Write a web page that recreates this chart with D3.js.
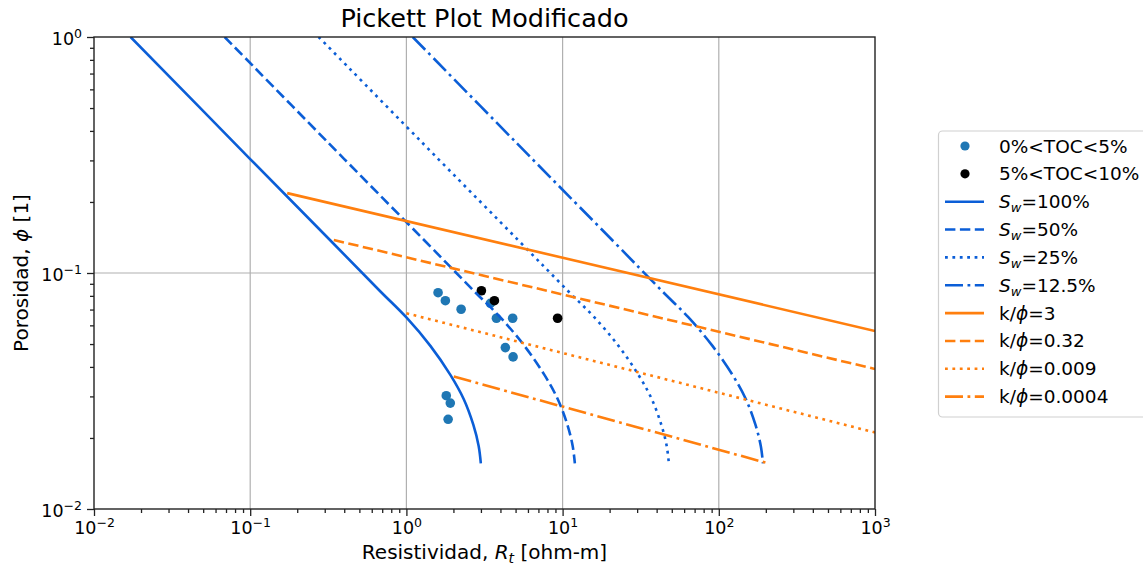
<!DOCTYPE html>
<meta charset="utf-8">
<style>
    body { margin: 0; background: #fff; }
    text { font-family: "DejaVu Sans", sans-serif; fill: #000; }
    .grid line { stroke: #b0b0b0; stroke-width: 1.2; }
</style>
<svg width="1143" height="569"></svg>
<script src="https://cdn.jsdelivr.net/npm/d3@7"></script>
<script>

    // Sw curves: [Rt (ohm-m), porosity]
    var sw100 = [[0.01715,1.0],[0.1,0.304],[0.3264,0.1373],[0.682,0.0835],[1.0,0.0648],[1.424,0.0491],[1.912,0.037],[2.326,0.02924],[2.684,0.0227],[2.901,0.01849],[2.996,0.01562]];
    var sw50 = [[0.0686,1.0],[0.4,0.304],[1.306,0.1373],[2.728,0.0835],[4.0,0.0648],[5.70,0.0491],[7.65,0.037],[9.30,0.02924],[10.74,0.0227],[11.60,0.01849],[11.98,0.01562]];
    var sw25 = [[0.2744,1.0],[1.6,0.304],[5.22,0.1373],[10.91,0.0835],[16.0,0.0648],[22.8,0.0491],[30.6,0.037],[37.2,0.02924],[42.9,0.0227],[46.4,0.01849],[47.9,0.01562]];
    var sw125 = [[1.098,1.0],[6.4,0.304],[20.9,0.1373],[43.6,0.0835],[64,0.0648],[91.1,0.0491],[122.4,0.037],[148.9,0.02924],[171.8,0.0227],[185.7,0.01849],[191.7,0.01562]];

    // k/phi lines
    var k3 = [[0.1725,0.218],[1000,0.0568]];
    var k032 = [[0.343,0.138],[1000,0.0392]];
    var k0009 = [[1.0,0.0675],[1000,0.0211]];
    var k00004 = [[2.01,0.0364],[208,0.0156]];

    // samples
    var tocLow = [[1.595,0.0825],[1.776,0.0763],[2.24,0.0702],[3.45,0.0744],[3.77,0.0643],[4.79,0.0643],[4.30,0.0483],[4.82,0.0441],[1.80,0.0302],[1.91,0.0281],[1.85,0.024]];
    var tocHigh = [[3.02,0.0841],[3.66,0.0763],[9.29,0.0643]];

    var xTicks = [1e-2,1e-1,1e0,1e1,1e2,1e3];
    var xTickExp = ["\u22122","\u22121","0","1","2","3"];
    var yTicks = [1e-2,1e-1,1e0];
    var yTickExp = ["\u22122","\u22121","0"];

    var blue = "#0b5ed7", orange = "#ff7f0e";

    var svg = d3.select("svg"),
        margin = {top: 37, right: 268, bottom: 60, left: 94},
        width = +svg.attr("width") - margin.left - margin.right,
        height = +svg.attr("height") - margin.top - margin.bottom;

    var g = svg.append("g")
        .attr("transform", "translate(" + margin.left + "," + margin.top + ")");

    var x = d3.scaleLog().domain([1e-2, 1e3]).range([0, width]),
        y = d3.scaleLog().domain([1e-2, 1]).range([height, 0]);

    function minors(lo, hi) {
        var out = [];
        for (var e = lo; e < hi; e++)
            for (var k = 2; k <= 9; k++) out.push(k * Math.pow(10, e));
        return out;
    }

    svg.append("defs").append("clipPath").attr("id", "clip")
        .append("rect").attr("width", width).attr("height", height);

    // grid
    g.append("g").attr("class", "grid")
        .selectAll("line").data(xTicks.slice(1, -1)).enter().append("line")
        .attr("x1", function(d) { return x(d); }).attr("x2", function(d) { return x(d); })
        .attr("y1", 0).attr("y2", height);
    g.append("g").attr("class", "grid")
        .selectAll("line").data(yTicks.slice(1, -1)).enter().append("line")
        .attr("y1", function(d) { return y(d); }).attr("y2", function(d) { return y(d); })
        .attr("x1", 0).attr("x2", width);

    // axes
    var gx = g.append("g")
        .attr("transform", "translate(0," + height + ")")
        .call(d3.axisBottom(x).tickValues(xTicks).tickSize(7).tickPadding(8).tickFormat(""));
    g.append("g")
        .attr("transform", "translate(0," + height + ")")
        .call(d3.axisBottom(x).tickValues(minors(-2, 3)).tickSize(4).tickFormat(""))
        .select(".domain").remove();
    var gy = g.append("g")
        .call(d3.axisLeft(y).tickValues(yTicks).tickSize(7).tickPadding(6).tickFormat(""));
    g.append("g")
        .call(d3.axisLeft(y).tickValues(minors(-2, 0)).tickSize(4).tickFormat(""))
        .select(".domain").remove();

    g.selectAll(".tick line").attr("stroke", "#222").attr("stroke-width", 1.3);
    g.selectAll(".domain").remove();

    gx.attr("font-family", null).attr("font-size", null);
    gx.selectAll(".tick text").each(function(d, i) {
        var t = d3.select(this).attr("dy", null).attr("y", 25).style("font-size", "17.5px");
        t.append("tspan").text("10");
        t.append("tspan").attr("dy", -7).style("font-size", "12.5px").text(xTickExp[i]);
    });
    gy.attr("font-family", null).attr("font-size", null);
    gy.selectAll(".tick text").each(function(d, i) {
        var t = d3.select(this).attr("dy", null).attr("y", 7).attr("x", -12).style("font-size", "17.5px");
        t.append("tspan").text("10");
        t.append("tspan").attr("dy", -7).style("font-size", "12.5px").text(yTickExp[i]);
    });

    var plot = g.append("g").attr("clip-path", "url(#clip)");

    // scatter (below lines)
    plot.selectAll(".low").data(tocLow).enter().append("circle")
        .attr("cx", function(d) { return x(d[0]); })
        .attr("cy", function(d) { return y(d[1]); })
        .attr("r", 4.8).attr("fill", "#1f77b4");
    plot.selectAll(".high").data(tocHigh).enter().append("circle")
        .attr("cx", function(d) { return x(d[0]); })
        .attr("cy", function(d) { return y(d[1]); })
        .attr("r", 4.8).attr("fill", "#000");

    var line = d3.line()
        .x(function(d) { return x(d[0]); })
        .y(function(d) { return y(d[1]); })
        .curve(d3.curveCatmullRom.alpha(0.5));

    var dashes = {solid: null, dashed: "10.4,4.5", dotted: "2.8,4.6", dashdot: "18,4.5,2.8,4.5"};

    var series = [
        {data: tocLow, type: "dot", color: "#1f77b4", label: ["0%<TOC<5%"]},
        {data: tocHigh, type: "dot", color: "#000", label: ["5%<TOC<10%"]},
        {data: sw100, dash: "solid", color: blue, sw: "=100%"},
        {data: sw50, dash: "dashed", color: blue, sw: "=50%"},
        {data: sw25, dash: "dotted", color: blue, sw: "=25%"},
        {data: sw125, dash: "dashdot", color: blue, sw: "=12.5%"},
        {data: k3, dash: "solid", color: orange, k: "=3"},
        {data: k032, dash: "dashed", color: orange, k: "=0.32"},
        {data: k0009, dash: "dotted", color: orange, k: "=0.009"},
        {data: k00004, dash: "dashdot", color: orange, k: "=0.0004"}
    ];

    series.forEach(function(s) {
        if (s.type === "dot") return;
        plot.append("path").datum(s.data)
            .attr("d", line)
            .attr("fill", "none")
            .attr("stroke", s.color)
            .attr("stroke-width", 2.6)
            .attr("stroke-dasharray", dashes[s.dash]);
    });

    // spines
    g.append("rect").attr("width", width).attr("height", height)
        .attr("fill", "none").attr("stroke", "#222").attr("stroke-width", 1.4);

    // title and labels
    svg.append("text").attr("x", margin.left + width / 2).attr("y", 27)
        .attr("text-anchor", "middle").style("font-size", "25.5px").text("Pickett Plot Modificado");

    var xl = svg.append("text").attr("x", margin.left + width / 2).attr("y", 559)
        .attr("text-anchor", "middle").style("font-size", "20px");
    xl.append("tspan").text("Resistividad, ");
    xl.append("tspan").style("font-style", "italic").text("R");
    xl.append("tspan").style("font-style", "italic").style("font-size", "14px").attr("dy", 4).text("t");
    xl.append("tspan").attr("dy", -4).text(" [ohm-m]");

    var yl = svg.append("text")
        .attr("transform", "translate(28," + (margin.top + height / 2) + ") rotate(-90)")
        .attr("text-anchor", "middle").style("font-size", "20px");
    yl.append("tspan").text("Porosidad, ");
    yl.append("tspan").style("font-style", "italic").text("\u03d5");
    yl.append("tspan").text(" [1]");

    // legend
    var lg = svg.append("g");
    lg.append("rect").attr("x", 938.5).attr("y", 131).attr("width", 230).attr("height", 286)
        .attr("rx", 4).attr("fill", "#fff").attr("stroke", "#d0d0d0").attr("stroke-width", 1.2);

    series.forEach(function(s, i) {
        var yy = 146 + i * 27.85;
        if (s.type === "dot") {
            lg.append("circle").attr("cx", 965).attr("cy", yy).attr("r", 4.6).attr("fill", s.color);
        } else {
            lg.append("line").attr("x1", 945).attr("x2", 984).attr("y1", yy).attr("y2", yy)
                .attr("stroke", s.color).attr("stroke-width", 2.6)
                .attr("stroke-dasharray", dashes[s.dash]);
        }
        var t = lg.append("text").attr("x", 999).attr("y", yy + 6.5).style("font-size", "18.5px");
        if (s.label) {
            t.text(s.label[0]);
        } else if (s.sw) {
            t.append("tspan").style("font-style", "italic").text("S");
            t.append("tspan").style("font-style", "italic").style("font-size", "13px").attr("dy", 4).text("w");
            t.append("tspan").attr("dy", -4).text(s.sw);
        } else {
            t.append("tspan").text("k/");
            t.append("tspan").style("font-style", "italic").text("\u03d5");
            t.append("tspan").text(s.k);
        }
    });
</script>
